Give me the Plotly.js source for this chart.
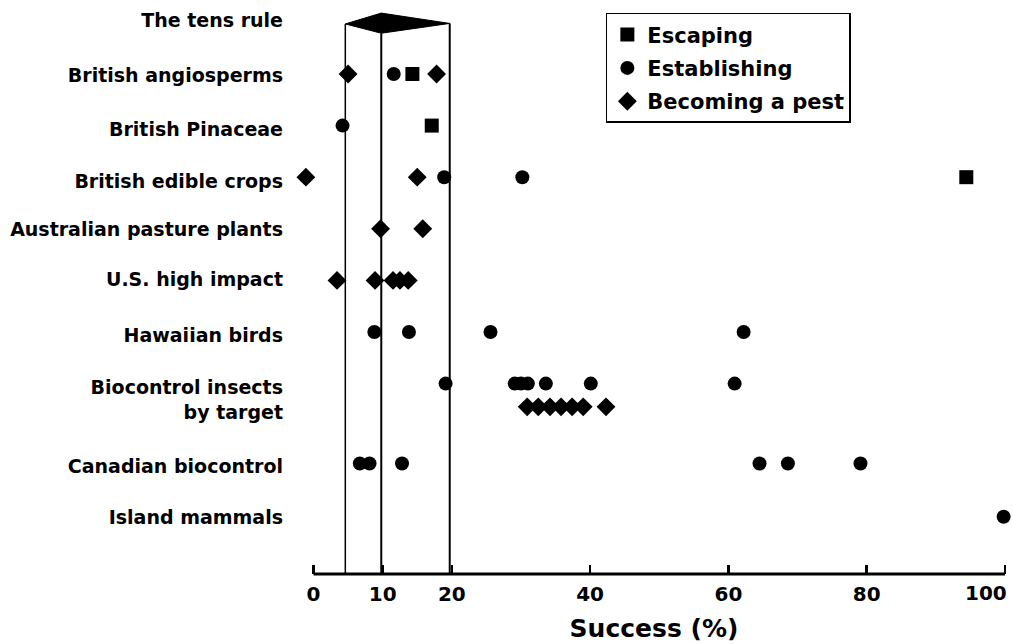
<!DOCTYPE html>
<html>
<head>
<meta charset="utf-8">
<script src="https://cdn.plot.ly/plotly-3.0.1.min.js"></script>
<style>html,body{margin:0;padding:0;background:#fff;}</style>
</head>
<body>
<div id="chart" style="width:1013px;height:644px;"></div>
<script>
// ---- Data ----
const categories = ["The tens rule", "British angiosperms", "British Pinaceae", "British edible crops",
  "Australian pasture plants", "U.S. high impact", "Hawaiian birds", "Biocontrol insects by target",
  "Canadian biocontrol", "Island mammals"];
const tickLabels = ["The tens rule", "British angiosperms", "British Pinaceae", "British edible crops",
  "Australian pasture plants", "U.S. high impact", "Hawaiian birds", "Biocontrol insects<br>by target",
  "Canadian biocontrol", "Island mammals"];

const escapingCat = ["British angiosperms", "British Pinaceae", "British edible crops"];
const escapingVal = [14.3, 17.1, 94.4];

const establishingCat = ["British angiosperms", "British Pinaceae",
  "British edible crops", "British edible crops",
  "Hawaiian birds", "Hawaiian birds", "Hawaiian birds", "Hawaiian birds",
  "Biocontrol insects by target", "Biocontrol insects by target", "Biocontrol insects by target",
  "Biocontrol insects by target", "Biocontrol insects by target", "Biocontrol insects by target",
  "Biocontrol insects by target",
  "Canadian biocontrol", "Canadian biocontrol", "Canadian biocontrol", "Canadian biocontrol",
  "Canadian biocontrol", "Canadian biocontrol",
  "Island mammals"];
const establishingVal = [11.6, 4.2,
  18.9, 30.2,
  8.8, 13.8, 25.6, 62.2,
  19.1, 29.1, 30.0, 31.0, 33.6, 40.1, 60.9,
  6.7, 8.1, 12.8, 64.5, 68.6, 79.1,
  99.8];

const pestCat = ["British angiosperms", "British angiosperms",
  "British edible crops", "British edible crops",
  "Australian pasture plants", "Australian pasture plants",
  "U.S. high impact", "U.S. high impact", "U.S. high impact", "U.S. high impact", "U.S. high impact",
  "Biocontrol insects by target", "Biocontrol insects by target", "Biocontrol insects by target",
  "Biocontrol insects by target", "Biocontrol insects by target", "Biocontrol insects by target",
  "Biocontrol insects by target"];
const pestVal = [5.0, 17.8,
  -1.1, 15.0,
  9.7, 15.8,
  3.4, 8.9, 11.5, 12.5, 13.7,
  30.9, 32.5, 34.2, 35.8, 37.4, 39.0, 42.3];

const xTickVals = [0, 10, 20, 40, 60, 80, 100];
const xTickText = ["0", "10", "20", "40", "60", "80", "100"];
const tensRuleBounds = [4.6, 9.8, 19.7];

// ---- Layout helpers (positions, not data) ----
const rowPos = [0, 1, 2, 3, 4, 5, 6, 7, 8.55, 9.58];
const labelPos = [-0.03, 1.02, 2.07, 3.08, 4.02, 4.98, 6.06, 7.31, 8.6, 9.6];
const pestOffset = {"Biocontrol insects by target": 0.45};
function rowOf(cat, off) { return rowPos[categories.indexOf(cat)] + ((off && off[cat]) || 0); }
const lastIdx = xTickVals.length - 1;
// the last tick label sits left of its tick (as in the original), drawn as an annotation
const tickTextShown = xTickText.map((t, i) => i === lastIdx ? "" : t);

const FONT = "DejaVu Sans";
const TICKFONT = {family: FONT, size: 20, weight: "bold", color: "black"};
const traces = [
  {name: "Escaping", legendgroup: "a", type: "scatter", mode: "markers", cliponaxis: false,
   x: escapingVal, y: escapingCat.map(c => rowOf(c)),
   marker: {symbol: "square", size: 14, color: "black"}},
  {name: "Establishing", legendgroup: "b", type: "scatter", mode: "markers", cliponaxis: false,
   x: establishingVal, y: establishingCat.map(c => rowOf(c)),
   marker: {symbol: "circle", size: 14, color: "black"}},
  {name: "Becoming a pest", legendgroup: "c", type: "scatter", mode: "markers", cliponaxis: false,
   x: pestVal, y: pestCat.map(c => rowOf(c, pestOffset)),
   marker: {symbol: "diamond", size: 14.5, color: "black"}}
];

const yTop = -0.337, yBot = 10.69;
const kiteTop = -0.18, kiteBottom = 0.21, kiteLeft = 0.03, kiteRight = 0.02;
const shapes = [
  {type: "line", xref: "x", yref: "paper", x0: xTickVals[0], x1: xTickVals[lastIdx], y0: 0, y1: 0, line: {color: "black", width: 3}},
  {type: "line", xref: "x", yref: "y", x0: tensRuleBounds[0], x1: tensRuleBounds[0], y0: kiteLeft, y1: yBot, line: {color: "black", width: 1.5}, layer: "below"},
  {type: "line", xref: "x", yref: "y", x0: tensRuleBounds[1], x1: tensRuleBounds[1], y0: kiteBottom, y1: yBot, line: {color: "black", width: 2}, layer: "below"},
  {type: "line", xref: "x", yref: "y", x0: tensRuleBounds[2], x1: tensRuleBounds[2], y0: kiteRight, y1: yBot, line: {color: "black", width: 2}, layer: "below"},
  {type: "path", xref: "x", yref: "y",
   path: "M " + tensRuleBounds[0] + "," + kiteLeft + " L " + tensRuleBounds[1] + "," + kiteTop +
         " L " + tensRuleBounds[2] + "," + kiteRight + " L " + tensRuleBounds[1] + "," + kiteBottom + " Z",
   fillcolor: "black", line: {color: "black", width: 1}}
];

const annotations = [
  {text: xTickText[lastIdx], x: xTickVals[lastIdx], xref: "x", y: 0, yref: "paper",
   xanchor: "right", yanchor: "top", xshift: 4, yshift: -5, showarrow: false, font: TICKFONT}
];

const layout = {
  width: 1013, height: 644,
  margin: {l: 300, r: 5, t: 5, b: 70},
  paper_bgcolor: "white", plot_bgcolor: "white",
  font: {family: FONT, color: "black"},
  showlegend: true,
  legend: {x: 0.432, y: 0.986, xanchor: "left", yanchor: "top",
    bordercolor: "black", borderwidth: 1.5, bgcolor: "white", tracegroupgap: 3,
    font: {family: FONT, size: 21, weight: "bold", color: "black"}},
  xaxis: {range: [-1.952, 100.43], tickmode: "array", tickvals: xTickVals, ticktext: tickTextShown,
    ticks: "inside", ticklen: 9, tickwidth: 2.5, tickcolor: "black",
    showgrid: false, zeroline: false, showline: false,
    ticklabelstandoff: 6, tickfont: TICKFONT,
    title: {text: "Success (%)", font: {family: FONT, size: 25, weight: "bold", color: "black"}, standoff: 14}},
  yaxis: {range: [yBot, yTop], tickmode: "array", tickvals: labelPos, ticktext: tickLabels,
    ticks: "", showgrid: false, zeroline: false, showline: false,
    tickfont: {family: FONT, size: 19, weight: "bold", color: "black"},
    ticklabelstandoff: 16},
  shapes: shapes,
  annotations: annotations
};

Plotly.newPlot("chart", traces, layout, {displayModeBar: false, staticPlot: true});
</script>
</body>
</html>
